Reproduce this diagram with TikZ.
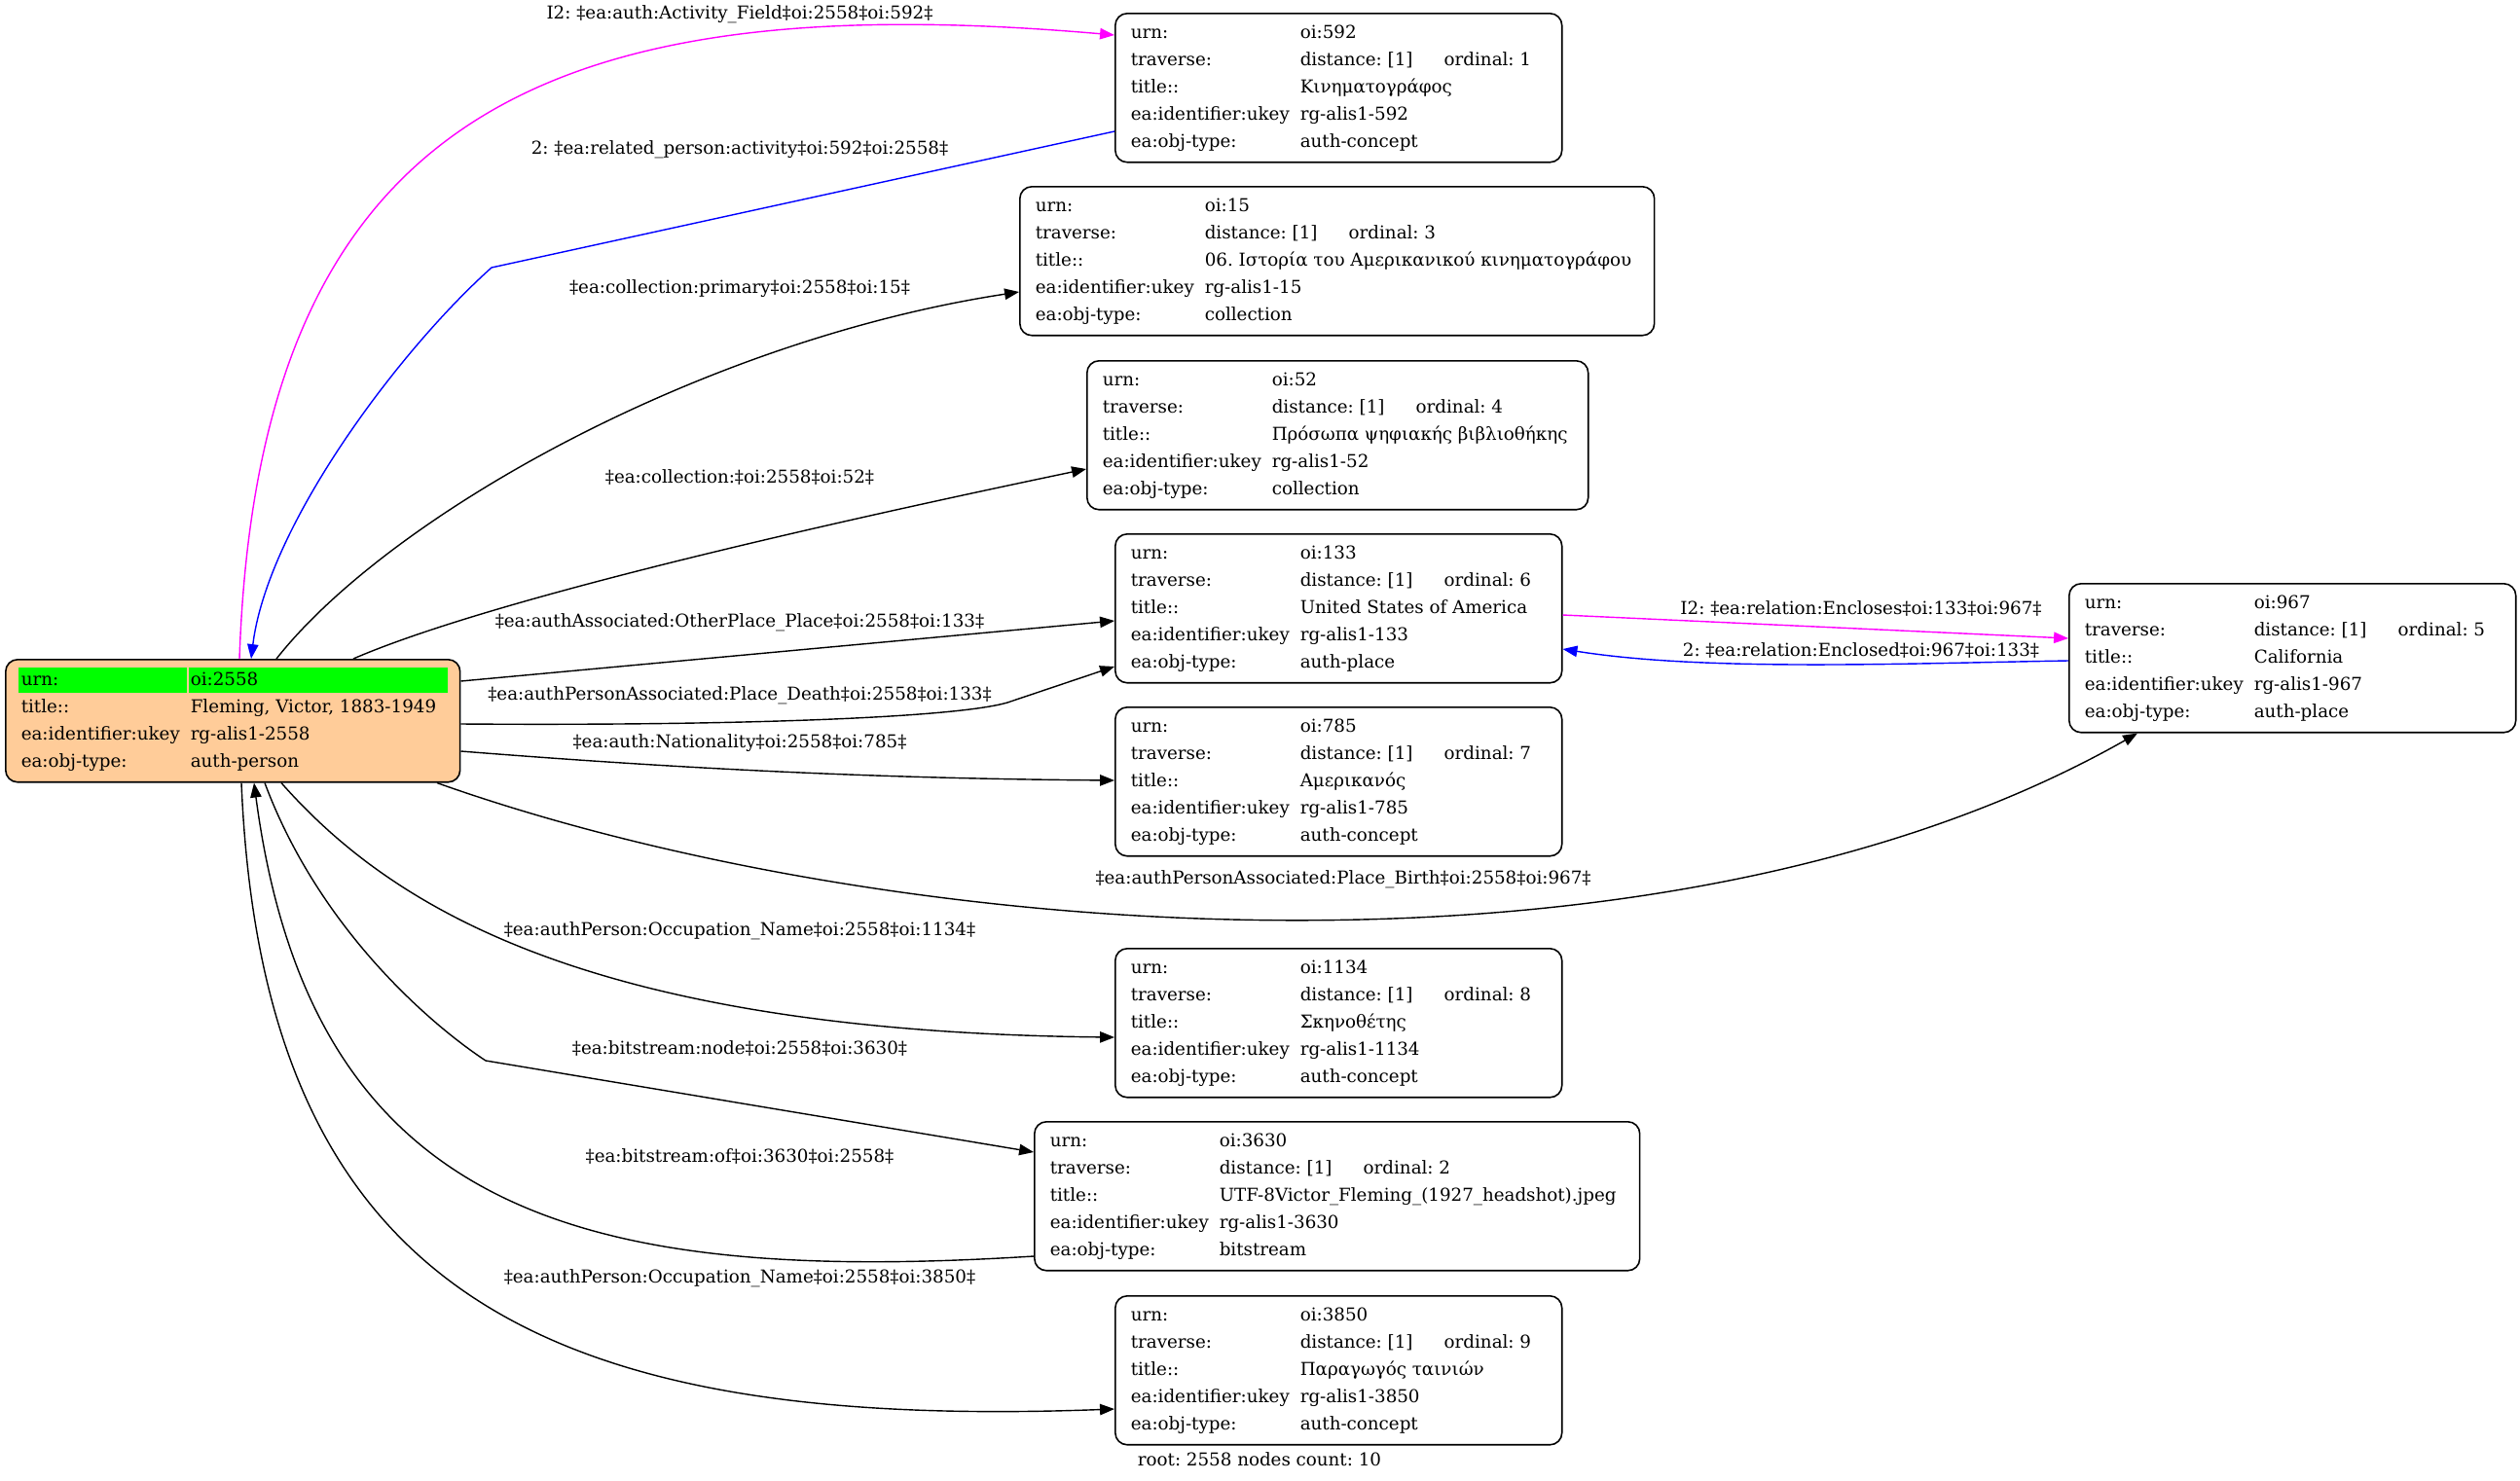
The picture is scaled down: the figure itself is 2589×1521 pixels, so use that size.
\documentclass[tikz,border=0pt]{standalone}
\usepackage{fontspec}
\setmainfont{DejaVu Serif}
\usepackage{tikz}
\usetikzlibrary{arrows.meta,calc}
\definecolor{rootpeach}{HTML}{FFCC99}
\definecolor{urngreen}{HTML}{00FF00}
\definecolor{linkmagenta}{HTML}{FF00FF}
\definecolor{linkblue}{HTML}{0000FF}
\tikzset{
  record/.style={draw=black,rounded corners=7pt,line width=.9pt,anchor=north west,inner sep=0pt,minimum height=3.06cm},
  rootrecord/.style={record,fill=rootpeach,minimum height=2.52cm},
  flow/.style={-{Triangle[length=8.5pt,width=6.5pt]},line width=.8pt},
  edgelabel/.style={anchor=base,inner sep=0pt},
}
\frenchspacing
% one record: width of value column, urn, ordinal, title, ukey, type
\newcommand{\recbody}[6]{%
  \begin{tabular}{@{}p{3.48cm}@{}l@{}}
  urn: & \makebox[#1][l]{#2}\\
  traverse: & \makebox[#1][l]{\makebox[2.96cm][l]{distance: [1]}ordinal: #3}\\
  title:: & \makebox[#1][l]{#4}\\
  ea:identifier:ukey & \makebox[#1][l]{#5}\\
  ea:obj-type: & \makebox[#1][l]{#6}
  \end{tabular}}

\begin{document}
\begin{tikzpicture}[x=0.02cm,y=-0.02cm,font=\fontsize{10.4}{15.93}\selectfont]
  \useasboundingbox (0,0) rectangle (2589,1521);
  % root record
  \node[rootrecord,minimum width=9.34cm,path picture={
      \fill[urngreen,sharp corners] ($(path picture bounding box.north west)+(13,8)$) rectangle +(173,26);
      \fill[urngreen,sharp corners] ($(path picture bounding box.north west)+(188,8)$) rectangle +(266,26);}] (root) at (5,677) {%
    \begin{tabular}{@{}p{3.48cm}@{}l@{}}
    urn: & \makebox[5.22cm][l]{oi:2558}\\
    title:: & \makebox[5.22cm][l]{Fleming, Victor, 1883-1949}\\
    ea:identifier:ukey & \makebox[5.22cm][l]{rg-alis1-2558}\\
    ea:obj-type: & \makebox[5.22cm][l]{auth-person}
    \end{tabular}};
  % linked records
  \node[record,minimum width=9.18cm] (n592) at (1145,13) {\recbody{5.06cm}{oi:592}{1}{Κινηματογράφος}{rg-alis1-592}{auth-concept}};
  \node[record,minimum width=13.04cm] (n15) at (1047,191) {\recbody{8.92cm}{oi:15}{3}{06. Ιστορία του Αμερικανικού κινηματογράφου}{rg-alis1-15}{collection}};
  \node[record,minimum width=10.30cm] (n52) at (1116,370) {\recbody{6.18cm}{oi:52}{4}{Πρόσωπα ψηφιακής βιβλιοθήκης}{rg-alis1-52}{collection}};
  \node[record,minimum width=9.18cm] (n133) at (1145,548) {\recbody{5.06cm}{oi:133}{6}{United States of America}{rg-alis1-133}{auth-place}};
  \node[record,minimum width=9.18cm] (n785) at (1145,726) {\recbody{5.06cm}{oi:785}{7}{Αμερικανός}{rg-alis1-785}{auth-concept}};
  \node[record,minimum width=9.18cm] (n1134) at (1145,974) {\recbody{5.06cm}{oi:1134}{8}{Σκηνοθέτης}{rg-alis1-1134}{auth-concept}};
  \node[record,minimum width=12.44cm] (n3630) at (1062,1152) {\recbody{8.32cm}{oi:3630}{2}{UTF-8Victor\_Fleming\_(1927\_headshot).jpeg}{rg-alis1-3630}{bitstream}};
  \node[record,minimum width=9.18cm] (n3850) at (1145,1331) {\recbody{5.06cm}{oi:3850}{9}{Παραγωγός ταινιών}{rg-alis1-3850}{auth-concept}};
  \node[record,minimum width=9.18cm] (n967) at (2125,599) {\recbody{5.06cm}{oi:967}{5}{California}{rg-alis1-967}{auth-place}};
  % edge labels
  \node[edgelabel] (lActivity) at (760,19) {I2: ‡ea:auth:Activity\_Field‡oi:2558‡oi:592‡};
  \node[edgelabel] (lRelated) at (760,158) {2: ‡ea:related\_person:activity‡oi:592‡oi:2558‡};
  \node[edgelabel] (lPrimary) at (760,301) {‡ea:collection:primary‡oi:2558‡oi:15‡};
  \node[edgelabel] (lCollection) at (760,496) {‡ea:collection:‡oi:2558‡oi:52‡};
  \node[edgelabel] (lOther) at (760,644) {‡ea:authAssociated:OtherPlace\_Place‡oi:2558‡oi:133‡};
  \node[edgelabel] (lDeath) at (760,719) {‡ea:authPersonAssociated:Place\_Death‡oi:2558‡oi:133‡};
  \node[edgelabel] (lNation) at (760,768) {‡ea:auth:Nationality‡oi:2558‡oi:785‡};
  \node[edgelabel] (lBirth) at (1380,908) {‡ea:authPersonAssociated:Place\_Birth‡oi:2558‡oi:967‡};
  \node[edgelabel] (lOccA) at (760,961) {‡ea:authPerson:Occupation\_Name‡oi:2558‡oi:1134‡};
  \node[edgelabel] (lBitNode) at (760,1083) {‡ea:bitstream:node‡oi:2558‡oi:3630‡};
  \node[edgelabel] (lBitOf) at (760,1194) {‡ea:bitstream:of‡oi:3630‡oi:2558‡};
  \node[edgelabel] (lOccB) at (760,1318) {‡ea:authPerson:Occupation\_Name‡oi:2558‡oi:3850‡};
  \node[edgelabel] (lEncloses) at (1912,631) {I2: ‡ea:relation:Encloses‡oi:133‡oi:967‡};
  \node[edgelabel] (lEnclosed) at (1912,674) {2: ‡ea:relation:Enclosed‡oi:967‡oi:133‡};
  \node[edgelabel] (footer) at (1294,1506) {root: 2558 nodes count: 10};
  % edges
  \draw[flow,linkmagenta] ($(root.north west)+(241,0)$) .. controls (265,120) and (560,-15) .. ($(n592.north west)+(0,23)$);
  \draw[flow,linkblue] ($(n592.north west)+(0,122)$) -- (505,275) .. controls (410,360) and (275,540) .. ($(root.north west)+(253,0)$);
  \draw[flow] ($(root.north west)+(279,0)$) .. controls (400,530) and (720,350) .. ($(n15.north west)+(0,109)$);
  \draw[flow] ($(root.north west)+(358,0)$) .. controls (430,648) and (600,590) .. ($(n52.north west)+(0,112)$);
  \draw[flow] ($(root.north east)+(0,23)$) -- ($(n133.north west)+(0,90)$);
  \draw[flow] ($(root.north east)+(0,67)$) .. controls (750,746) and (980,738) .. (1035,722) -- ($(n133.north west)+(0,137)$);
  \draw[flow] ($(root.north east)+(0,95)$) .. controls (700,790) and (900,800) .. ($(n785.north west)+(0,76)$);
  \draw[flow] ($(root.south west)+(444,0)$) .. controls (900,965) and (1700,1035) .. ($(n967.south west)+(71,0)$);
  \draw[flow] ($(root.south west)+(284,0)$) .. controls (400,930) and (600,1060) .. ($(n1134.north west)+(0,92)$);
  \draw[flow] ($(root.south west)+(267,0)$) .. controls (330,960) and (450,1058) .. (499,1090) -- ($(n3630.north west)+(0,32)$);
  \draw[flow] ($(n3630.north west)+(0,139)$) .. controls (600,1320) and (320,1250) .. ($(root.south west)+(256,0)$);
  \draw[flow] ($(root.south west)+(243,0)$) .. controls (270,1330) and (560,1470) .. ($(n3850.north west)+(0,117)$);
  \draw[flow,linkmagenta] ($(n133.north east)+(0,84)$) -- ($(n967.north west)+(0,57)$);
  \draw[flow,linkblue] ($(n967.north west)+(0,80)$) .. controls (1950,682) and (1750,690) .. ($(n133.north east)+(0,119)$);
\end{tikzpicture}
\end{document}
